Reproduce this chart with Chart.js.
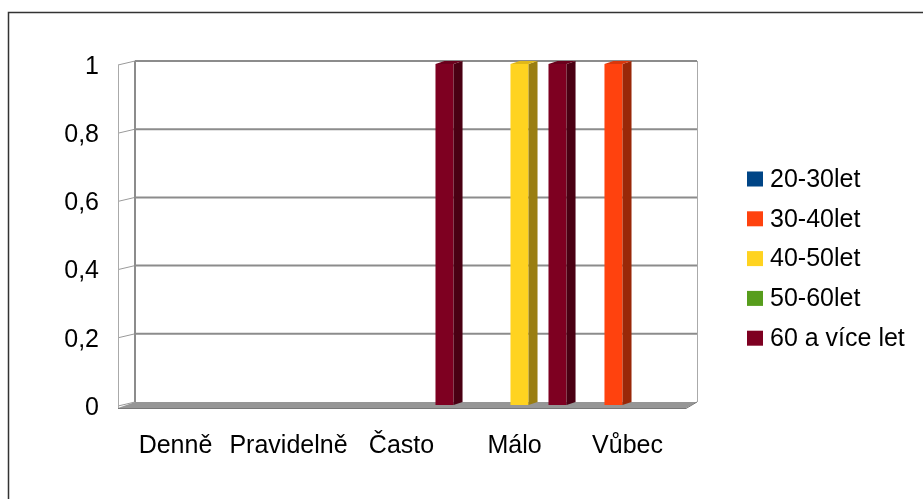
<!DOCTYPE html>
<html>
<head>
<meta charset="utf-8">
<script src="https://cdn.jsdelivr.net/npm/chart.js@4.4.1/dist/chart.umd.min.js"></script>
<style>
  body { margin: 0; background: #fff; }
</style>
</head>
<body>
<canvas id="myChart" width="923" height="499"></canvas>
<script>
// data
const categories = ['Denně', 'Pravidelně', 'Často', 'Málo', 'Vůbec'];
const seriesNames = ['20-30let', '30-40let', '40-50let', '50-60let', '60 a více let'];
const s2030 = [0, 0, 0, 0, 0];
const s3040 = [0, 0, 0, 0, 1];
const s4050 = [0, 0, 0, 1, 0];
const s5060 = [0, 0, 0, 0, 0];
const s60 = [0, 0, 1, 1, 0];
const yTickLabels = ['0', '0,2', '0,4', '0,6', '0,8', '1'];

const frontColors = ['#004586', '#ff420e', '#ffd320', '#579d1c', '#7e0021'];
const sideColors = ['#00284e', '#992808', '#9a7e12', '#335d10', '#4a0013'];
const topColors = ['#003a70', '#d8380c', '#e0b81a', '#4a8618', '#6a001c'];

const FONT = '"Liberation Sans", Arial, sans-serif';
const DEPTH = 9;   // bar side depth
const RISE = 3;    // bar side rise

// rámeček + 3D stěny
const framePlugin = {
  id: 'frame3d',
  beforeDatasetsDraw(chart) {
    const ctx = chart.ctx;
    const y = chart.scales.y;
    const area = chart.chartArea;
    const backL = area.left + 11, backR = area.right + 8;
    const frontL = area.left - 6;
    const yb = v => y.getPixelForValue(v) - 3;

    ctx.save();
    // floor
    const y0 = yb(0);
    ctx.fillStyle = '#969696';
    ctx.beginPath();
    ctx.moveTo(frontL, y0 + 6);
    ctx.lineTo(backL, y0);
    ctx.lineTo(backR, y0);
    ctx.lineTo(backR - 11, y0 + 6);
    ctx.closePath();
    ctx.fill();
    ctx.strokeStyle = '#777777';
    ctx.lineWidth = 1;
    ctx.beginPath();
    ctx.moveTo(frontL, y0 + 6.5);
    ctx.lineTo(backR - 11, y0 + 6.5);
    ctx.lineTo(backR, y0);
    ctx.stroke();

    // grid lines on back wall + left wall
    y.ticks.forEach(t => {
      const py = yb(t.value);
      ctx.strokeStyle = '#8c8c8c';
      ctx.lineWidth = 2;
      if (t.value > 0) {
        ctx.beginPath();
        ctx.moveTo(backL, py);
        ctx.lineTo(backR, py);
        ctx.stroke();
      }
      ctx.strokeStyle = '#9a9a9a';
      ctx.lineWidth = 1;
      ctx.beginPath();
      ctx.moveTo(frontL, py + 4);
      ctx.lineTo(backL, py);
      ctx.stroke();
    });
    // wall edges
    ctx.strokeStyle = '#8c8c8c';
    ctx.lineWidth = 2;
    ctx.beginPath();
    ctx.moveTo(backL, yb(1));
    ctx.lineTo(backL, y0);
    ctx.stroke();
    ctx.strokeStyle = '#aaaaaa';
    ctx.lineWidth = 1;
    ctx.beginPath();
    ctx.moveTo(frontL + 0.5, yb(1) + 4);
    ctx.lineTo(frontL + 0.5, y0 + 6);
    ctx.moveTo(backR + 0.5, yb(1));
    ctx.lineTo(backR + 0.5, y0);
    ctx.stroke();

    // outer border (top + left)
    ctx.strokeStyle = '#333333';
    ctx.lineWidth = 1.5;
    ctx.beginPath();
    ctx.moveTo(8.5, chart.height);
    ctx.lineTo(8.5, 12.5);
    ctx.lineTo(chart.width, 12.5);
    ctx.stroke();
    ctx.restore();
  },
  afterDatasetsDraw(chart) {
    const ctx = chart.ctx;
    ctx.save();
    chart.data.datasets.forEach((ds, i) => {
      chart.getDatasetMeta(i).data.forEach((bar, j) => {
        if (!ds.data[j]) return;
        const half = bar.width / 2;
        const r = bar.x + half, l = bar.x - half;
        // side face
        ctx.fillStyle = sideColors[i];
        ctx.beginPath();
        ctx.moveTo(r, bar.y);
        ctx.lineTo(r + DEPTH, bar.y - RISE);
        ctx.lineTo(r + DEPTH, bar.base - RISE);
        ctx.lineTo(r, bar.base);
        ctx.closePath();
        ctx.fill();
        // top face
        ctx.fillStyle = topColors[i];
        ctx.beginPath();
        ctx.moveTo(l, bar.y);
        ctx.lineTo(l + DEPTH, bar.y - RISE);
        ctx.lineTo(r + DEPTH, bar.y - RISE);
        ctx.lineTo(r, bar.y);
        ctx.closePath();
        ctx.fill();
      });
    });
    ctx.restore();
  }
};

// legenda vpravo
const legendPlugin = {
  id: 'sideLegend',
  afterDraw(chart) {
    const ctx = chart.ctx;
    ctx.save();
    ctx.font = '25px ' + FONT;
    ctx.textBaseline = 'middle';
    ctx.textAlign = 'left';
    chart.data.datasets.forEach((ds, i) => {
      const cy = 179 + i * 39.8;
      ctx.fillStyle = frontColors[i];
      ctx.fillRect(747, cy - 7.5, 16, 15);
      ctx.fillStyle = '#000';
      ctx.fillText(ds.label, 770, cy + 1);
    });
    ctx.restore();
  }
};

const seriesData = [s2030, s3040, s4050, s5060, s60];
const datasets = seriesNames.map((name, i) => ({
  label: name,
  data: seriesData[i],
  backgroundColor: frontColors[i],
  borderWidth: 0,
  barPercentage: 0.95,
  categoryPercentage: 0.841
}));

const ctx = document.getElementById('myChart').getContext('2d');
new Chart(ctx, {
  type: 'bar',
  data: { labels: categories, datasets: datasets },
  options: {
    responsive: false,
    animation: false,
    devicePixelRatio: 1,
    layout: { padding: { top: 64, bottom: 34, left: 0, right: 234 } },
    plugins: {
      legend: { display: false },
      tooltip: { enabled: false }
    },
    scales: {
      x: {
        grid: { display: false, drawTicks: false },
        border: { display: false },
        ticks: {
          color: '#000',
          font: { family: FONT, size: 25 },
          padding: 26,
          labelOffset: -5,
          maxRotation: 0,
          autoSkip: false
        },
        afterFit(scale) { scale.height = 60; }
      },
      y: {
        min: 0,
        max: 1,
        grid: { display: false, drawTicks: false },
        border: { display: false },
        ticks: {
          stepSize: 0.2,
          color: '#000',
          font: { family: FONT, size: 25 },
          padding: 25,
          labelOffset: 3,
          callback: (v, idx) => yTickLabels[idx]
        },
        afterFit(scale) { scale.width = 124; }
      }
    }
  },
  plugins: [framePlugin, legendPlugin]
});
</script>
</body>
</html>
